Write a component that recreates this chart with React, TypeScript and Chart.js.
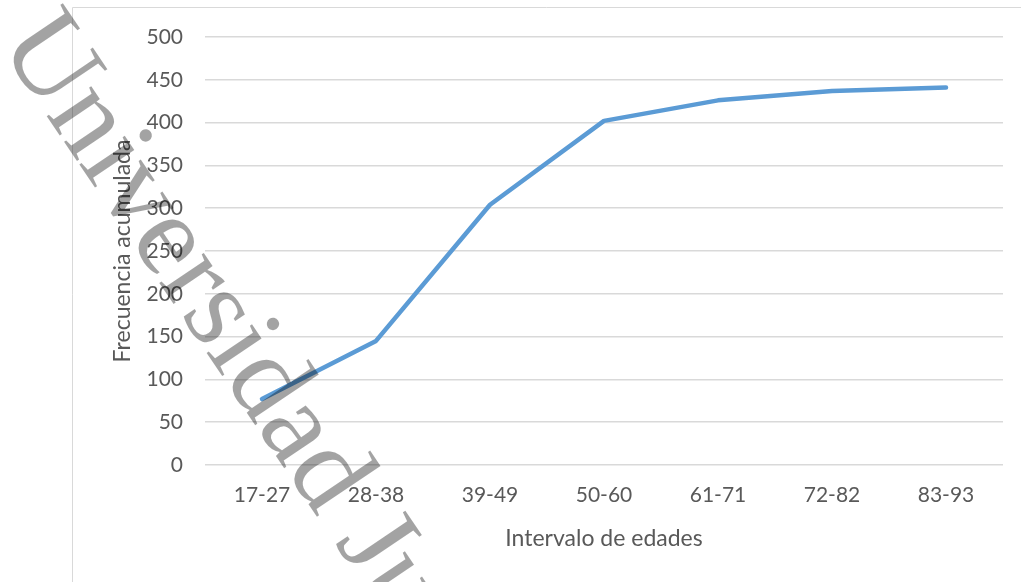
import React, { useEffect, useRef } from "react";
import { Chart, registerables } from "chart.js";

Chart.register(...registerables);

const categories = ["17-27", "28-38", "39-49", "50-60", "61-71", "72-82", "83-93"];
const cumulativeFrequency = [77, 145, 304, 402, 426, 437, 441];
const yMin = 0;
const yMax = 500;
const yStep = 50;
const xTitle = "Intervalo de edades";
const yTitle = "Frecuencia acumulada";
const watermarkText = "Universidad Juárez";

const TEXT = "#595959";
const GRID = "#d9d9d9";
const FONT = "Lato, 'Open Sans', sans-serif";

const framePlugin = {
  id: "frame",
  beforeDraw(chart: any) {
    const ctx = chart.ctx;
    ctx.save();
    ctx.strokeStyle = GRID;
    ctx.lineWidth = 1;
    ctx.beginPath();
    ctx.moveTo(72.5, chart.height);
    ctx.lineTo(72.5, 7.5);
    ctx.lineTo(chart.width, 7.5);
    ctx.stroke();
    ctx.restore();
  },
};

const watermarkPlugin = {
  id: "watermark",
  afterDraw(chart: any) {
    const ctx = chart.ctx;
    ctx.save();
    ctx.translate(-2, 44);
    ctx.rotate((56 * Math.PI) / 180);
    ctx.font = "117px 'Liberation Serif', 'DejaVu Serif', serif";
    ctx.fillStyle = "rgba(0,0,0,0.36)";
    ctx.textBaseline = "alphabetic";
    ctx.textAlign = "left";
    ctx.fillText(watermarkText, 0, 0);
    ctx.restore();
  },
};

export default function App() {
  const canvasRef = useRef<HTMLCanvasElement | null>(null);

  useEffect(() => {
    if (!canvasRef.current) return;
    const chart = new Chart(canvasRef.current, {
      type: "line",
      data: {
        labels: categories,
        datasets: [
          {
            label: yTitle,
            data: cumulativeFrequency,
            borderColor: "#5b9bd5",
            backgroundColor: "#5b9bd5",
            borderWidth: 4.5,
            pointRadius: 0,
            pointHoverRadius: 0,
            tension: 0,
            borderCapStyle: "round",
            borderJoinStyle: "round",
            fill: false,
          },
        ],
      },
      options: {
        animation: false,
        responsive: false,
        maintainAspectRatio: false,
        layout: { padding: { top: 37, right: 18, left: 0, bottom: 0 } },
        plugins: {
          legend: { display: false },
          tooltip: { enabled: false },
          title: { display: false },
        },
        scales: {
          x: {
            type: "category",
            offset: true,
            grid: { display: false, drawTicks: false },
            border: { display: false },
            ticks: {
              color: TEXT,
              font: { family: FONT, size: 21 },
              padding: 18,
              maxRotation: 0,
              autoSkip: false,
            },
            title: {
              display: true,
              text: xTitle,
              color: TEXT,
              font: { family: FONT, size: 23 },
              padding: { top: 0, bottom: 30 },
            },
            afterFit(scale: any) {
              scale.height = 117;
            },
          },
          y: {
            min: yMin,
            max: yMax,
            grid: { color: GRID, lineWidth: 1.5, drawTicks: false },
            border: { display: false },
            ticks: {
              stepSize: yStep,
              color: TEXT,
              font: { family: FONT, size: 21 },
              padding: 22,
            },
            title: {
              display: true,
              text: yTitle,
              color: TEXT,
              font: { family: FONT, size: 23 },
              padding: { top: 109, bottom: 0 },
            },
            afterFit(scale: any) {
              scale.width = 205;
            },
          },
        },
      },
      plugins: [framePlugin, watermarkPlugin],
    });
    return () => chart.destroy();
  }, []);

  return (
    <div style={{ position: "fixed", left: 0, top: 0, width: 1021, height: 582, background: "#fff" }}>
      <canvas ref={canvasRef} width={1021} height={582} style={{ display: "block" }} />
    </div>
  );
}
